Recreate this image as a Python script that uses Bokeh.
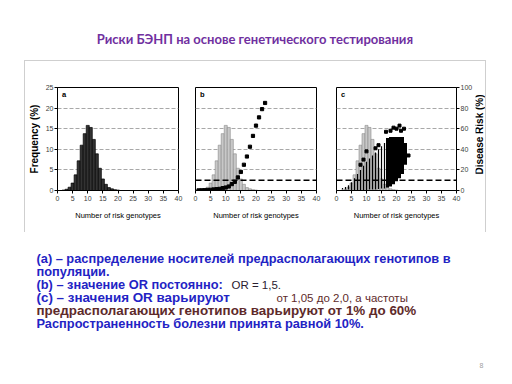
import math
from bokeh.plotting import figure
from bokeh.models import Range1d, LinearAxis, FixedTicker, Label, Spacer, Span
from bokeh.layouts import row, column
from bokeh.embed import file_html
from bokeh.resources import INLINE

# ---------------- data ----------------
genotypes = [2, 3, 4, 5, 6, 7, 8, 9, 10, 11, 12, 13, 14, 15, 16, 17, 18, 19, 20]
frequency = [0.1, 0.3, 0.8, 1.8, 3.8, 7.2, 11.0, 13.8, 15.8, 15.3, 12.4, 8.9, 5.4, 2.8, 1.5, 0.7, 0.4, 0.2, 0.1]

risk_b_x = [1, 2, 3, 4, 5, 6, 7, 8, 9, 10, 11, 12, 13, 14, 15, 16, 17, 18, 19, 20, 21, 22, 23]
risk_b = [0.1, 0.2, 0.3, 0.5, 0.7, 1.0, 1.3, 1.6, 2.3, 2.9, 3.9, 6.2, 8.4, 12.7, 18, 25, 33, 42.5, 53, 63, 71, 79, 85]

risk_c_x = [2, 3, 4, 5, 6, 7, 8, 9, 10, 11, 12, 13, 14, 15, 16, 17, 18, 19, 20, 21, 22, 23]
risk_c_low = [1, 1, 1, 0.5, 0.5, 0.5, 0.5, 0.5, 0.5, 1, 1, 1, 1.5, 2, 2, 3, 4, 6, 9, 12, 16, 25]
risk_c_high = [2.5, 3.5, 5, 8, 12, 16, 20, 24, 28, 31, 34, 37, 40, 43, 46, 51, 52, 52, 52, 52, 52, 46]
risk_c_out_x = [8, 9, 10, 13, 14, 16.5, 18, 19, 20, 21, 21.5, 22.5, 24]
risk_c_out_y = [25, 30, 38, 41, 44, 57, 58, 61, 60, 63, 58, 60, 34]

prevalence = 10
x_ticks = [0, 5, 10, 15, 20, 25, 30, 35, 40]
freq_ticks = [0, 5, 10, 15, 20, 25]
risk_ticks = [0, 20, 40, 60, 80, 100]

title_text = "Риски БЭНП на  основе генетического тестирования"
x_label = "Number of risk genotypes"
risk_label = "Disease Risk (%)"

AX_FONT = "Liberation Sans"
TXT_FONT = "Liberation Sans"
BLUE = "#2323C4"
BROWN = "#5E2A2A"


def make_panel(letter, left, right, frame_w, show_left_axis):
    p = figure(frame_width=frame_w, frame_height=103,
               x_range=Range1d(0, 40), y_range=Range1d(0, 25),
               output_backend="svg", toolbar_location=None,
               min_border_left=left, min_border_right=right,
               min_border_top=26, min_border_bottom=42,
               background_fill_color="white", border_fill_color="white",
               outline_line_color="black", outline_line_width=1)
    p.extra_y_ranges = {"risk": Range1d(0, 100)}
    xa = p.xaxis[0]
    xa.ticker = FixedTicker(ticks=x_ticks)
    xa.axis_label = x_label
    xa.axis_label_text_font = AX_FONT
    xa.axis_label_text_font_size = "7.5px"
    xa.axis_label_text_font_style = "normal"
    xa.axis_label_text_color = "black"
    xa.axis_label_standoff = 7
    xa.major_label_text_font = AX_FONT
    xa.major_label_text_font_size = "7px"
    xa.major_label_text_color = "#404040"
    xa.major_label_standoff = 2
    xa.major_tick_out = 3
    xa.major_tick_in = 0
    xa.minor_tick_line_color = None
    xa.axis_line_color = "black"
    ya = p.yaxis[0]
    ya.ticker = FixedTicker(ticks=freq_ticks)
    ya.minor_tick_line_color = None
    ya.major_tick_out = 3
    ya.major_tick_in = 0
    if show_left_axis:
        ya.axis_label = "Frequency (%)"
        ya.axis_label_text_font = AX_FONT
        ya.axis_label_text_font_size = "10px"
        ya.axis_label_text_font_style = "bold"
        ya.axis_label_text_color = "black"
        ya.axis_label_standoff = 3
        ya.major_label_text_font = AX_FONT
        ya.major_label_text_font_size = "7px"
        ya.major_label_text_color = "#404040"
        ya.major_label_standoff = 1
    else:
        ya.visible = False
    p.xgrid.visible = False
    p.ygrid.ticker = FixedTicker(ticks=freq_ticks)
    p.ygrid.grid_line_color = "#a8a8a8"
    p.ygrid.grid_line_dash = "4 2"
    p.ygrid.grid_line_width = 1
    p.add_layout(Label(x=1.5, y=23.3, text=letter, text_font=AX_FONT,
                       text_font_size="7.5px", text_font_style="bold",
                       text_baseline="middle", text_color="black"))
    return p


# panel a
fa = make_panel("a", 31, 10, 121, True)
fa.vbar(x=genotypes, top=frequency, width=1.0, fill_color="#333333",
        line_color="black", line_width=0.7)

# panel b
fb = make_panel("b", 7, 10, 121, False)
fb.vbar(x=genotypes, top=frequency, width=1.0, fill_color="#c8c8c8",
        line_color="#8a8a8a", line_width=0.6)
fb.add_layout(Span(location=prevalence, dimension="width", y_range_name="risk",
                   line_color="black", line_dash="6 3", line_width=1.5))
fb.scatter(x=risk_b_x, y=risk_b, marker="square", size=3.2, color="black",
           y_range_name="risk")

# panel c
fc = make_panel("c", 10, 17, 120, False)
fc.vbar(x=genotypes, top=frequency, width=1.0, fill_color="#c8c8c8",
        line_color="#8a8a8a", line_width=0.6)
c_width = [0.4 if g <= 16 else 1.0 for g in risk_c_x]
fc.vbar(x=risk_c_x, bottom=risk_c_low, top=risk_c_high, width=c_width,
        fill_color="black", line_color=None,
        y_range_name="risk")
fc.scatter(x=risk_c_out_x, y=risk_c_out_y, marker="square", size=3,
           color="black", y_range_name="risk")
fc.add_layout(Span(location=prevalence, dimension="width", y_range_name="risk",
                   line_color="black", line_dash="6 3", line_width=1.5))
ra = LinearAxis(y_range_name="risk", ticker=FixedTicker(ticks=risk_ticks))
ra.major_label_text_font = AX_FONT
ra.major_label_text_font_size = "7px"
ra.major_label_text_color = "#404040"
ra.major_label_standoff = 1
ra.major_tick_out = 3
ra.major_tick_in = 0
ra.minor_tick_line_color = None
fc.add_layout(ra, "right")


def canvas(w, h, flip=True):
    yr = Range1d(h, 0) if flip else Range1d(0, h)
    p = figure(width=w, height=h, x_range=Range1d(0, w), y_range=yr,
               output_backend="svg", toolbar_location=None,
               x_axis_location=None, y_axis_location=None,
               min_border=0, outline_line_color=None,
               background_fill_color="white", border_fill_color="white")
    p.grid.visible = False
    return p


# narrow strip to the right of panel c for its axis title (reads upwards)
risk_title = canvas(10, 171, flip=False)
risk_title.add_layout(Label(x=4, y=93, text=risk_label, angle=math.pi / 2,
                            text_font=AX_FONT, text_font_size="10px",
                            text_font_style="bold", text_color="black",
                            text_align="center", text_baseline="middle"))

# title canvas covers page rows 0..60 (page coordinates)
title_fig = canvas(512, 60)
title_fig.add_layout(Label(x=256, y=38, text=title_text, text_font="Lato",
                           text_font_size="13px", text_font_style="bold",
                           text_color="#7030A0", text_align="center",
                           text_baseline="middle"))

# text canvas covers page rows 232..382
text_fig = canvas(512, 150)
lines = [
    (36, 26, "(a) – распределение носителей предрасполагающих генотипов в", BLUE, "bold", "12.8px"),
    (36, 39, "популяции.", BLUE, "bold", "12.8px"),
    (36, 52, "(b) – значение OR постоянно:", BLUE, "bold", "12.8px"),
    (231, 52, "OR = 1,5.", "#2a2030", "normal", "11.5px"),
    (36, 65, "(c) – значения OR варьируют", BLUE, "bold", "13.4px"),
    (276, 65, "от 1,05 до 2,0, а частоты", BROWN, "normal", "11.5px"),
    (36, 78, "предрасполагающих генотипов варьируют от 1% до 60%", BROWN, "bold", "13.4px"),
    (36, 91, "Распространенность болезни принята равной 10%.", BLUE, "bold", "12.8px"),
]
for x, y, t, c, st, fs in lines:
    text_fig.add_layout(Label(x=x, y=y, text=t, text_font=TXT_FONT,
                              text_font_size=fs, text_font_style=st,
                              text_color=c, text_baseline="middle"))
text_fig.add_layout(Label(x=479, y=133, text="8", text_font=TXT_FONT,
                          text_font_size="7px", text_color="#a0a0a0",
                          text_baseline="middle"))

wrapper = row(fa, fb, fc, risk_title,
              styles={"border-left": "1px solid #cfcfcf",
                      "border-right": "1px solid #cfcfcf",
                      "border-top": "1px solid #cfcfcf"})
mid = row(Spacer(width=24, height=171), wrapper)
layout = column(title_fig, mid, text_fig)

open("out.html", "w").write(file_html(layout, INLINE))
